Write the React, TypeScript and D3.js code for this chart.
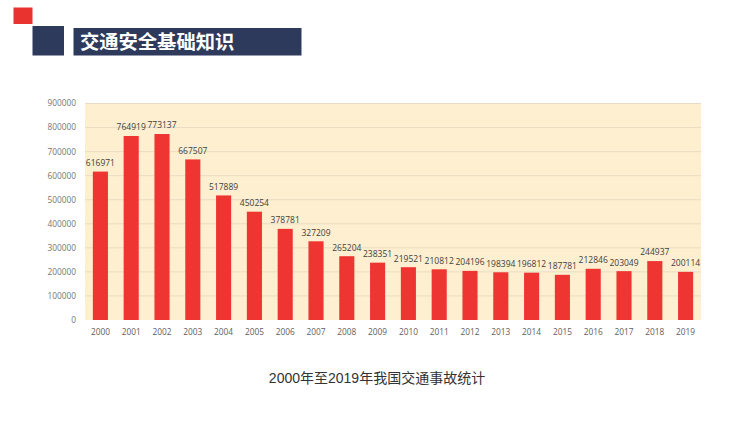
import React from "react";
import * as d3 from "d3";

const years = ["2000","2001","2002","2003","2004","2005","2006","2007","2008","2009","2010","2011","2012","2013","2014","2015","2016","2017","2018","2019"];
const accidents = [616971,764919,773137,667507,517889,450254,378781,327209,265204,238351,219521,210812,204196,198394,196812,187781,212846,203049,244937,200114];
const yTicks = [0,100000,200000,300000,400000,500000,600000,700000,800000,900000];
const title = "交通安全基础知识";
const caption = "2000年至2019年我国交通事故统计";

export default function App() {
  const W = 750, H = 421;
  const left = 85, right = 701, top = 103.5, bottom = 320;
  const x = d3.scaleBand<string>().domain(years).range([left, right]).paddingInner(0.51).paddingOuter(0.255);
  const y = d3.scaleLinear().domain([0, 900000]).range([bottom, top]);
  const font = "'Open Sans', 'Noto Sans', sans-serif";
  return (
    <svg width={W} height={H} style={{ position: "absolute", left: 0, top: 0, background: "#fff" }}>
      <rect x={13.5} y={7.5} width={19} height={16.5} fill="#e8332f" />
      <rect x={32.5} y={26} width={31.5} height={29.5} fill="#2e3a5c" />
      <rect x={73.5} y={28} width={228} height={27.5} fill="#2e3a5c" />
      <text x={80} y={49} fill="#fff" fontSize={19.3} fontWeight="bold" fontFamily="'Noto Sans CJK SC', sans-serif">{title}</text>

      <rect x={left} y={top} width={right - left} height={bottom - top} fill="#fdefcf" />
      {yTicks.map(t => (
        <g key={t}>
          {t > 0 && <line x1={left} x2={right} y1={y(t)} y2={y(t)} stroke="#e8dcc4" strokeWidth={1} />}
          <text x={76} y={y(t)} dy="0.35em" textAnchor="end" fontSize={8.3} fill="#767676" fontFamily={font}>{t}</text>
        </g>
      ))}
      {years.map((yr, i) => {
        const bx = x(yr)!;
        const bw = x.bandwidth();
        const v = accidents[i];
        return (
          <g key={yr}>
            <rect x={bx} y={y(v)} width={bw} height={bottom - y(v)} fill="#ef3532" />
            <text x={bx + bw / 2} y={y(v) - 8.6} dy="0.35em" textAnchor="middle" fontSize={8.5} fill="#404040" fontFamily={font}>{v}</text>
            <text x={bx + bw / 2} y={332} dy="0.35em" textAnchor="middle" fontSize={8.3} fill="#606060" fontFamily={font}>{yr}</text>
          </g>
        );
      })}
      <text x={377} y={378} dy="0.35em" textAnchor="middle" fontSize={14} fill="#333" fontFamily="'Liberation Sans', 'Noto Sans CJK SC', sans-serif">{caption}</text>
    </svg>
  );
}
